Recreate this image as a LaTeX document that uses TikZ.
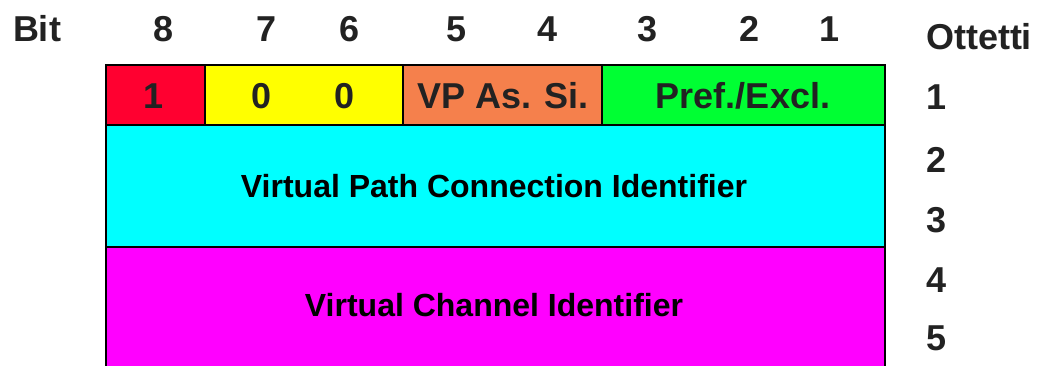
\documentclass[tikz,border=0pt]{standalone}
\usepackage{fontspec}
\setmainfont{Liberation Sans}
\definecolor{cred}{HTML}{FF0030}
\definecolor{cyel}{HTML}{FFFF00}
\definecolor{corg}{HTML}{F5804C}
\definecolor{cgrn}{HTML}{00FF33}
\definecolor{ccyan}{HTML}{00FFFF}
\definecolor{cmag}{HTML}{FF00FF}
\definecolor{ink}{HTML}{222222}
\tikzset{
  cell/.style={draw=black, line width=2.8pt, anchor=north west, inner sep=0pt, outer sep=0pt},
  hdr/.style={text=ink, font=\fontsize{36}{36}\selectfont\bfseries, inner sep=0pt},
  rowtxt/.style={text=ink, font=\fontsize{36}{36}\selectfont\bfseries, inner sep=0pt},
  bigtxt/.style={text=black, font=\fontsize{32}{32}\selectfont\bfseries, inner sep=0pt}
}
\begin{document}
\begin{tikzpicture}[x=1pt,y=-1pt]
\useasboundingbox[fill=white] (0,0) rectangle (1039,365);
% cells
\node[cell, fill=cred, minimum width=99pt, minimum height=60pt] (c8) at (106,65) {};
\node[cell, fill=cyel, minimum width=198pt, minimum height=60pt] (c76) at (205,65) {};
\node[cell, fill=corg, minimum width=199pt, minimum height=60pt] (c54) at (403,65) {};
\node[cell, fill=cgrn, minimum width=283pt, minimum height=60pt] (c321) at (602,65) {};
\node[cell, fill=ccyan, minimum width=779pt, minimum height=122pt] (vpci) at (106,125) {};
\node[cell, fill=cmag, minimum width=779pt, minimum height=124pt] (vci) at (106,247) {};
% cell texts
\node[rowtxt] (t1) at (154,96) {1};
\node[rowtxt] (t0a) at (262,96) {0};
\node[rowtxt] (t0b) at (345,96) {0};
\node[rowtxt] (tvp) at (503,96) {VP As. Si.};
\node[rowtxt] (tpref) at (743,96) {Pref./Excl.};
\node[bigtxt] (tvpci) at (494,186) {Virtual Path Connection Identifier};
\node[bigtxt] (tvci) at (494,305) {Virtual Channel Identifier};
% header
\node[hdr] (bit) at (37,29) {Bit};
\node[hdr] (b8) at (164,29) {8};
\node[hdr] (b7) at (267,29) {7};
\node[hdr] (b6) at (350,29) {6};
\node[hdr] (b5) at (457,29) {5};
\node[hdr] (b4) at (548,29) {4};
\node[hdr] (b3) at (648,29) {3};
\node[hdr] (b2) at (750,29) {2};
\node[hdr] (b1) at (830,29) {1};
\node[hdr] (ott) at (979,37) {Ottetti};
\node[hdr] (o1) at (936,97) {1};
\node[hdr] (o2) at (936,160) {2};
\node[hdr] (o3) at (936,220) {3};
\node[hdr] (o4) at (936,280) {4};
\node[hdr] (o5) at (936,338) {5};
\end{tikzpicture}
\end{document}
